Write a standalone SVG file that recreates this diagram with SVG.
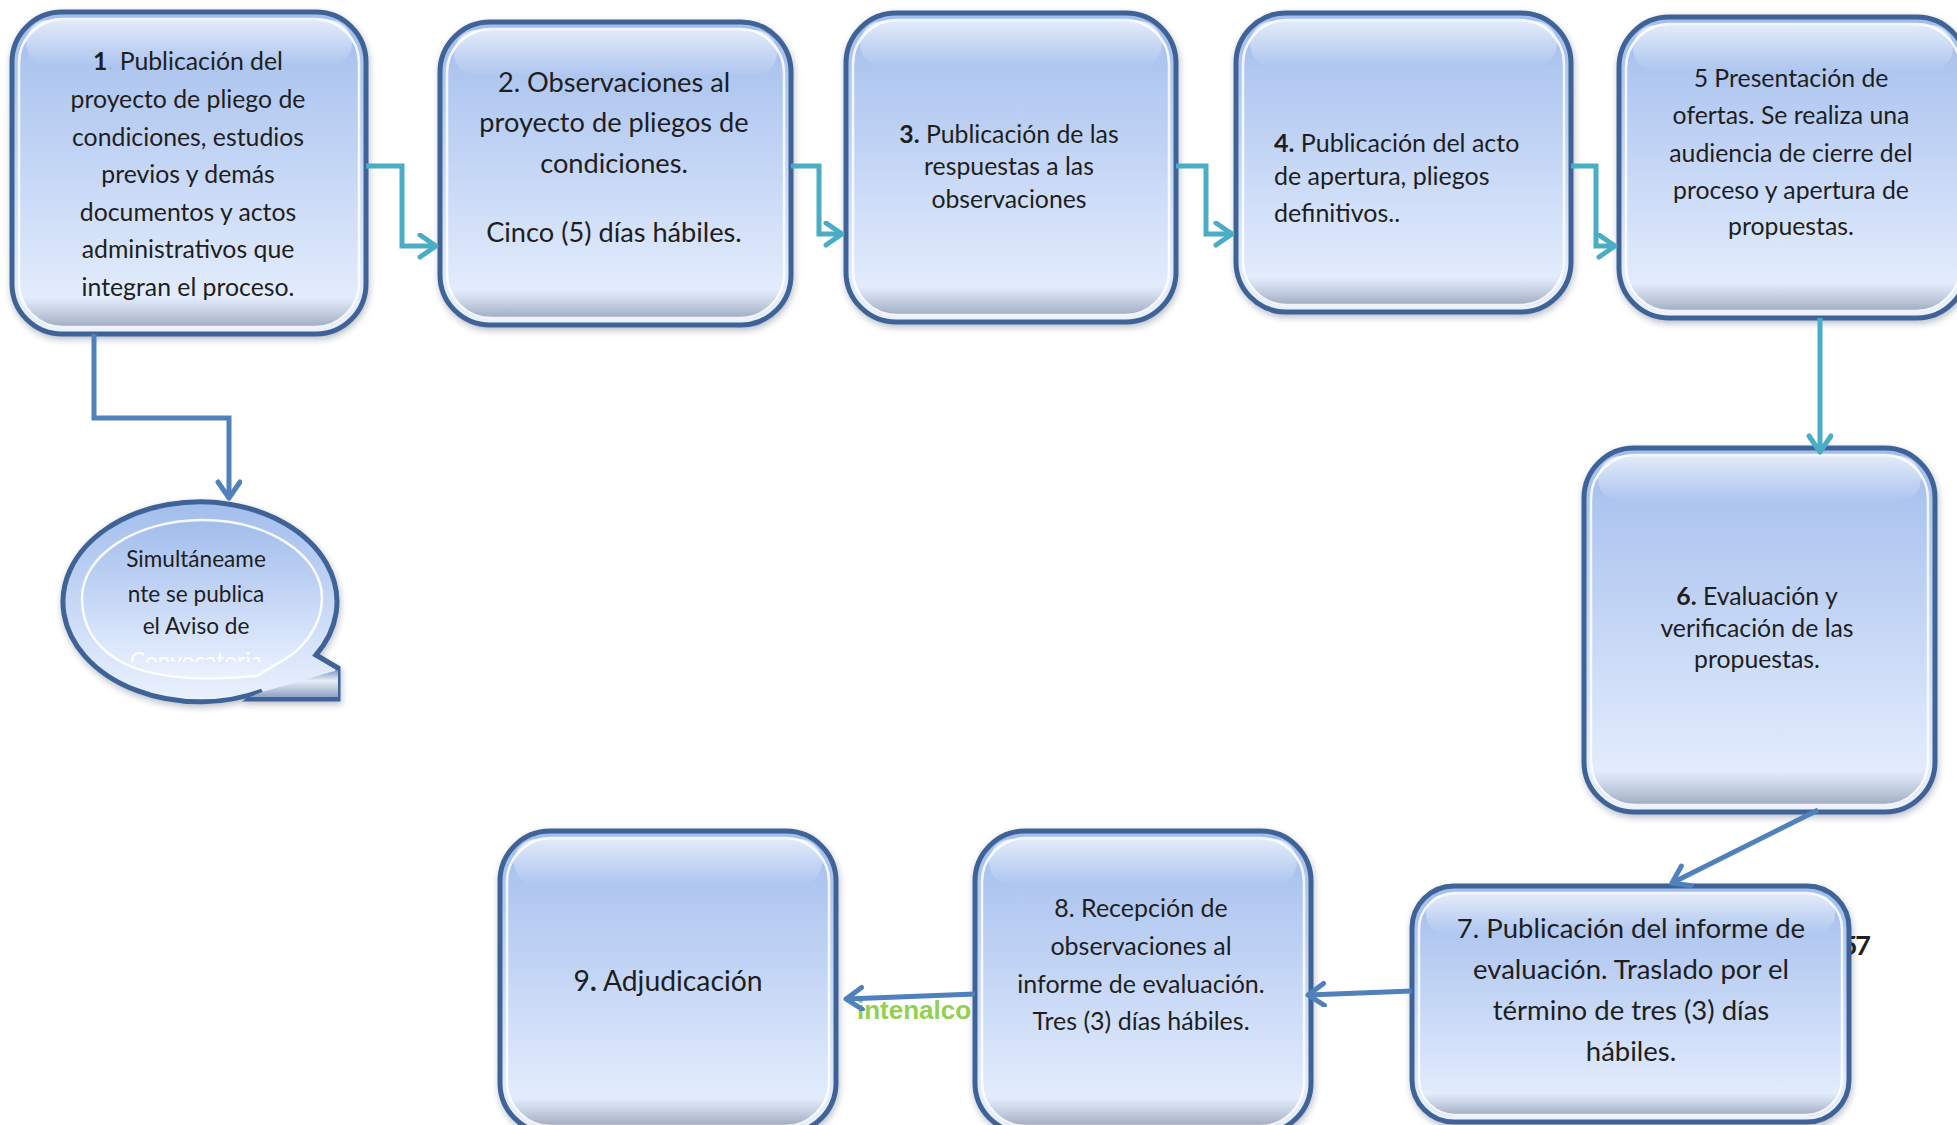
<svg xmlns="http://www.w3.org/2000/svg" width="1957" height="1125" viewBox="0 0 1957 1125">
<defs>
  <linearGradient id="gBox" x1="0" y1="0" x2="0" y2="1">
    <stop offset="0" stop-color="#A2BDEC"/>
    <stop offset="0.5" stop-color="#C6D7F6"/>
    <stop offset="1" stop-color="#EBF2FE"/>
  </linearGradient>
  <linearGradient id="gHi" x1="0" y1="0" x2="0" y2="1">
    <stop offset="0" stop-color="#FFFFFF" stop-opacity="0.7"/>
    <stop offset="1" stop-color="#FFFFFF" stop-opacity="0"/>
  </linearGradient>
  <linearGradient id="gShade" x1="0" y1="0" x2="0" y2="1">
    <stop offset="0" stop-color="#6E7F9C" stop-opacity="0"/>
    <stop offset="0.9" stop-color="#6E7F9C" stop-opacity="0"/>
    <stop offset="1" stop-color="#5E6E8A" stop-opacity="0.55"/>
  </linearGradient>
  <linearGradient id="gBar" x1="0" y1="0" x2="0" y2="1">
    <stop offset="0" stop-color="#7F97C2"/>
    <stop offset="0.4" stop-color="#E8EEF8"/>
    <stop offset="1" stop-color="#8FA3C6"/>
  </linearGradient>
  <filter id="shadow" x="-10%" y="-10%" width="120%" height="120%">
    <feDropShadow dx="1" dy="3" stdDeviation="3" flood-color="#1F3050" flood-opacity="0.3"/>
  </filter>
  <marker id="arrTeal" markerUnits="userSpaceOnUse" markerWidth="26" markerHeight="28" refX="20" refY="13" orient="auto" viewBox="0 0 26 28">
    <path d="M 4 2 L 20 13 L 4 24" fill="none" stroke="#4BACC6" stroke-width="5" stroke-linecap="round" stroke-linejoin="round"/>
  </marker>
  <marker id="arrBlue" markerUnits="userSpaceOnUse" markerWidth="26" markerHeight="28" refX="20" refY="13" orient="auto" viewBox="0 0 26 28">
    <path d="M 4 2 L 20 13 L 4 24" fill="none" stroke="#4F81BD" stroke-width="5" stroke-linecap="round" stroke-linejoin="round"/>
  </marker>
  <clipPath id="clipConv">
    <rect x="60" y="640" width="280" height="22"/>
  </clipPath>
</defs>
<style>
  .box { fill: url(#gBox); stroke: #3F6497; stroke-width: 5; filter: url(#shadow); }
  .shade { fill: url(#gShade); stroke: none; }
  .hi { fill: url(#gHi); stroke: none; }
  .inner { fill: none; stroke: #FFFFFF; stroke-opacity: 0.85; stroke-width: 2.5; }
  .t { font-family: Lato, "Liberation Sans", sans-serif; fill: #1E1E1E; }
  .c { text-anchor: middle; }
  .b { font-weight: bold; }
  .teal { fill: none; stroke: #4BACC6; stroke-width: 5; marker-end: url(#arrTeal); }
  .blue { fill: none; stroke: #4F81BD; stroke-width: 5; marker-end: url(#arrBlue); }
</style>

<g id="stray-57">
  <text class="t b" x="1869" y="955" font-size="27" letter-spacing="-2" text-anchor="end">57</text>
</g>

<g id="node1">
  <rect class="box" x="12" y="12" width="354" height="322" rx="50"/>
  <rect class="shade" x="18" y="18" width="342" height="310" rx="44"/>
  <rect class="hi" x="26" y="20" width="326" height="46" rx="23"/>
  <rect class="inner" x="19" y="19" width="340" height="308" rx="44"/>
  <g class="t c" font-size="24.8">
    <text x="188" y="70"><tspan class="b">1</tspan><tspan fill="#9FB8E0">.</tspan> Publicación del</text>
    <text x="188" y="108">proyecto de pliego de</text>
    <text x="188" y="146">condiciones, estudios</text>
    <text x="188" y="183">previos y demás</text>
    <text x="188" y="221">documentos y actos</text>
    <text x="188" y="258">administrativos que</text>
    <text x="188" y="296">integran el proceso.</text>
  </g>
</g>

<g id="node2">
  <rect class="box" x="440" y="22" width="351" height="303" rx="50"/>
  <rect class="shade" x="446" y="28" width="339" height="291" rx="44"/>
  <rect class="hi" x="454" y="30" width="323" height="46" rx="23"/>
  <rect class="inner" x="447" y="29" width="337" height="289" rx="44"/>
  <g class="t c" font-size="27.2">
    <text x="614" y="92">2. Observaciones al</text>
    <text x="614" y="132">proyecto de pliegos de</text>
    <text x="614" y="173">condiciones.</text>
    <text x="614" y="242">Cinco (5) días hábiles.</text>
  </g>
</g>

<g id="node3">
  <rect class="box" x="846" y="13" width="330" height="309" rx="50"/>
  <rect class="shade" x="852" y="19" width="318" height="297" rx="44"/>
  <rect class="hi" x="860" y="21" width="302" height="46" rx="23"/>
  <rect class="inner" x="853" y="20" width="316" height="295" rx="44"/>
  <g class="t c" font-size="24.8">
    <text x="1009" y="143"><tspan class="b">3.</tspan>  Publicación de las</text>
    <text x="1009" y="175">respuestas a las</text>
    <text x="1009" y="208">observaciones</text>
  </g>
</g>

<g id="node4">
  <rect class="box" x="1236" y="13" width="335" height="299" rx="50"/>
  <rect class="shade" x="1242" y="19" width="323" height="287" rx="44"/>
  <rect class="hi" x="1250" y="21" width="307" height="46" rx="23"/>
  <rect class="inner" x="1243" y="20" width="321" height="285" rx="44"/>
  <g class="t" font-size="25">
    <text x="1274" y="152"><tspan class="b">4.</tspan>  Publicación del acto</text>
    <text x="1274" y="185">de apertura, pliegos</text>
    <text x="1274" y="222">definitivos..</text>
  </g>
</g>

<g id="node5">
  <rect class="box" x="1619" y="17" width="348" height="301" rx="50"/>
  <rect class="shade" x="1625" y="23" width="336" height="289" rx="44"/>
  <rect class="hi" x="1633" y="25" width="320" height="46" rx="23"/>
  <rect class="inner" x="1626" y="24" width="334" height="287" rx="44"/>
  <g class="t c" font-size="24.8">
    <text x="1791" y="87">5 Presentación de</text>
    <text x="1791" y="124">ofertas. Se realiza una</text>
    <text x="1791" y="162">audiencia de cierre del</text>
    <text x="1791" y="199">proceso y apertura de</text>
    <text x="1791" y="235">propuestas.</text>
  </g>
</g>

<g id="node6">
  <rect class="box" x="1584" y="448" width="351" height="364" rx="50"/>
  <rect class="shade" x="1590" y="454" width="339" height="352" rx="44"/>
  <rect class="hi" x="1598" y="456" width="323" height="46" rx="23"/>
  <rect class="inner" x="1591" y="455" width="337" height="350" rx="44"/>
  <g class="t c" font-size="24.8">
    <text x="1757" y="605"><tspan class="b">6.</tspan>  Evaluación y</text>
    <text x="1757" y="637">verificación de las</text>
    <text x="1757" y="668">propuestas.</text>
  </g>
</g>

<g id="node7">
  <rect class="box" x="1412" y="886" width="437" height="236" rx="42"/>
  <rect class="shade" x="1418" y="892" width="425" height="224" rx="36"/>
  <rect class="hi" x="1426" y="894" width="409" height="40" rx="20"/>
  <rect class="inner" x="1419" y="893" width="423" height="222" rx="36"/>
  <g class="t c" font-size="27.5">
    <text x="1631" y="938">7. Publicación del informe de</text>
    <text x="1631" y="979">evaluación. Traslado por el</text>
    <text x="1631" y="1020">término de tres (3) días</text>
    <text x="1631" y="1061">hábiles.</text>
  </g>
</g>

<g id="node8">
  <rect class="box" x="975" y="831" width="336" height="302" rx="50"/>
  <rect class="shade" x="981" y="837" width="324" height="290" rx="44"/>
  <rect class="hi" x="989" y="839" width="308" height="46" rx="23"/>
  <rect class="inner" x="982" y="838" width="322" height="288" rx="44"/>
  <g class="t c" font-size="25">
    <text x="1141" y="917">8. Recepción de</text>
    <text x="1141" y="955">observaciones al</text>
    <text x="1141" y="993">informe de evaluación.</text>
    <text x="1141" y="1030">Tres (3) días hábiles.</text>
  </g>
</g>

<g id="node9">
  <rect class="box" x="500" y="831" width="336" height="302" rx="50"/>
  <rect class="shade" x="506" y="837" width="324" height="290" rx="44"/>
  <rect class="hi" x="514" y="839" width="308" height="46" rx="23"/>
  <rect class="inner" x="507" y="838" width="322" height="288" rx="44"/>
  <text class="t c" x="668" y="991" font-size="28.3">9<tspan class="b">.</tspan> Adjudicación</text>
</g>

<g id="bubble">
  <path d="M 262 691 A 137 100 0 1 1 316 655 L 338 668 L 338 699 L 250 699 Z" fill="url(#gBox)" stroke="#3F6497" stroke-width="5" filter="url(#shadow)"/>
  <path d="M 262 692 L 338 670 L 338 697 L 250 697 Z" fill="url(#gBar)" stroke="none"/>
  <path d="M 257 676 C 210 681 150 680 118 660 C 88 642 82 618 82 598 C 82 555 137 520 202 520 C 268 520 322 555 322 598 C 322 628 300 652 280 662 Z" fill="url(#gBox)" stroke="#FFFFFF" stroke-opacity="0.9" stroke-width="2.5"/>
  <g class="t c" font-size="22.6">
    <text x="196" y="567">Simultáneame</text>
    <text x="196" y="602">nte se publica</text>
    <text x="196" y="634">el Aviso de</text>
    <text x="196" y="669" fill="#FFFFFF" clip-path="url(#clipConv)">Convocatoria</text>
  </g>
</g>

<g id="label-intenalco">
  <text x="857" y="1019" font-family="'Liberation Sans', Arial, sans-serif" font-weight="bold" font-size="26" fill="#92D050">intenalco</text>
</g>

<g id="connectors">
  <path class="teal" d="M 366 166 H 402 V 246 H 436"/>
  <path class="teal" d="M 791 166 H 819 V 234 H 842"/>
  <path class="teal" d="M 1176 166 H 1206 V 234 H 1232"/>
  <path class="teal" d="M 1571 166 H 1596 V 246 H 1615"/>
  <path class="teal" d="M 1820 318 V 452"/>
  <path class="blue" d="M 94 334 V 418 H 229 V 498"/>
  <path class="blue" d="M 1818 810 L 1672 883"/>
  <path class="blue" d="M 1412 991 L 1308 995"/>
  <path class="blue" d="M 975 994 L 846 999"/>
</g>
</svg>
